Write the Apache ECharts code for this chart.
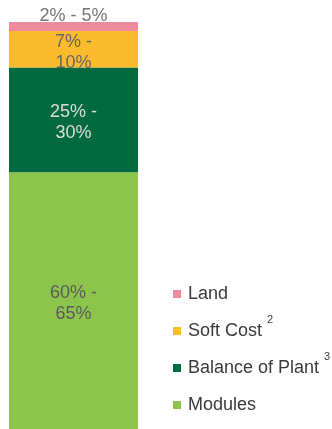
<!DOCTYPE html>
<html>
<head>
<meta charset="utf-8">
<script src="https://cdn.jsdelivr.net/npm/echarts@6/dist/echarts.min.js"></script>
<style>
  html, body { margin: 0; padding: 0; background: #ffffff; }
  #chart { width: 332px; height: 429px; }
</style>
</head>
<body>
<div id="chart"></div>
<script>
// Cost breakdown of a solar plant, as a single 100% stacked column
const categories = ['Total'];
const seriesNames = ['Modules', 'Balance of Plant', 'Soft Cost', 'Land'];
const seriesValues = [63.1, 25.7, 9.0, 2.2];
const rangeLabels = ['60% -\n65%', '25% -\n30%', '7% -\n10%', '2% - 5%'];
const legendOrder = ['Land', 'Soft Cost', 'Balance of Plant', 'Modules'];
const footnotes = { 'Soft Cost': '2', 'Balance of Plant': '3' };

const colors = ['#8cc44c', '#026a3e', '#fbbb2c', '#ef8a9a'];
const labelColors = ['#5a5a5a', '#dcdcdc', '#666666', '#777777'];
const FONT = 'Liberation Sans, Arial, sans-serif';

const chart = echarts.init(document.getElementById('chart'));

const series = seriesNames.map((name, i) => ({
  name: name,
  type: 'bar',
  stack: 'total',
  data: [seriesValues[i]],
  barWidth: '100%',
  itemStyle: { color: colors[i] },
  label: {
    show: true,
    position: name === 'Land' ? 'top' : 'inside',
    distance: name === 'Land' ? -5 : 0,
    offset: name === 'Land' ? [0, 0] : [0, 3],
    formatter: () => rangeLabels[i],
    color: labelColors[i],
    fontSize: 18,
    lineHeight: 21,
    fontFamily: FONT
  }
}));

// one legend entry per row, 37px apart; footnote numbers are raised small text
const legendTop = 277;
const legendStep = 37;
const legends = legendOrder.map((name, i) => ({
  orient: 'vertical',
  left: 173,
  top: legendTop + legendStep * i,
  padding: 0,
  data: [name],
  icon: 'rect',
  itemWidth: 8,
  itemHeight: 8,
  formatter: (n) => '{t|' + n + '}{s|' + (footnotes[n] || ' ') + '}',
  textStyle: {
    color: '#3a3a3a',
    fontSize: 18,
    fontFamily: FONT,
    rich: {
      t: { fontSize: 18, lineHeight: 34, color: '#3a3a3a', fontFamily: FONT, padding: [0, 0, 0, 2] },
      s: { fontSize: 11, lineHeight: 11, color: '#3a3a3a', fontFamily: FONT, verticalAlign: 'top', padding: [0, 0, 0, 5] }
    }
  }
}));

chart.setOption({
  animation: false,
  grid: { left: 9, right: 194, top: 22, bottom: -5 },
  xAxis: {
    type: 'category',
    data: categories,
    show: false
  },
  yAxis: {
    type: 'value',
    min: 0,
    max: 100,
    show: false
  },
  legend: legends,
  series: series
});
</script>
</body>
</html>
